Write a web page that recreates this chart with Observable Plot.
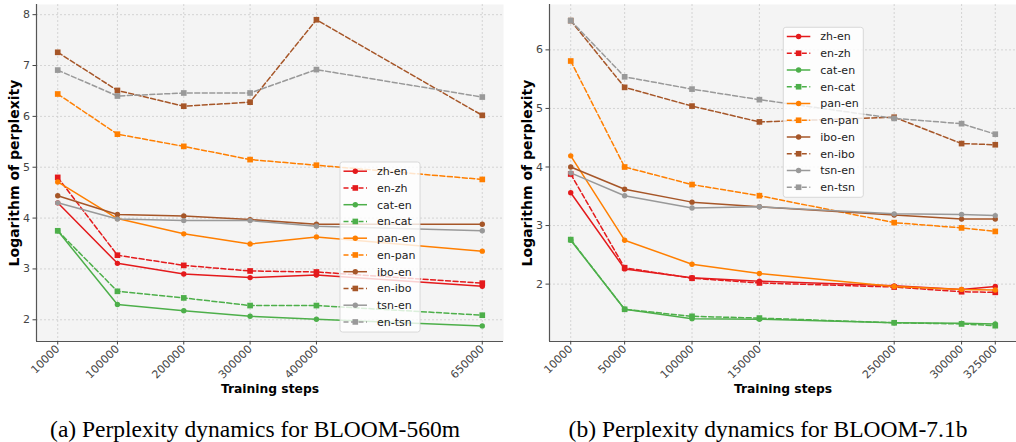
<!DOCTYPE html>
<html><head><meta charset="utf-8">
<script src="https://cdn.jsdelivr.net/npm/d3@7"></script>
<script src="https://cdn.jsdelivr.net/npm/@observablehq/plot@0.6"></script>
<style>
html,body{margin:0;padding:0;background:#fff}
body{width:1016px;height:442px;overflow:hidden;position:relative;font-family:"DejaVu Sans",sans-serif}
.panel{position:absolute;top:0}
.cap{position:absolute;top:416px;width:500px;font-family:"Liberation Serif","Times New Roman",serif;font-size:23.5px;line-height:26px;text-align:center;white-space:nowrap;color:#000}
</style></head><body>
<div id="left" class="panel" style="left:0"></div>
<div id="right" class="panel" style="left:508px"></div>
<div class="cap" style="left:5px">(a) Perplexity dynamics for BLOOM-560m</div>
<div class="cap" style="left:518px">(b) Perplexity dynamics for BLOOM-7.1b</div>
<script>
const series = ["zh-en","en-zh","cat-en","en-cat","pan-en","en-pan","ibo-en","en-ibo","tsn-en","en-tsn"];
const colors = ["#e41a1c","#e41a1c","#4daf4a","#4daf4a","#ff7f00","#ff7f00","#a65628","#a65628","#999999","#999999"];

// BLOOM-560m
const leftSteps = [10000, 100000, 200000, 300000, 400000, 650000];
const leftValues = [
  [4.30, 3.11, 2.90, 2.83, 2.88, 2.66], // zh-en
  [4.80, 3.27, 3.07, 2.96, 2.94, 2.72], // en-zh
  [3.75, 2.30, 2.18, 2.07, 2.01, 1.88], // cat-en
  [3.75, 2.56, 2.43, 2.28, 2.28, 2.09], // en-cat
  [4.71, 3.99, 3.69, 3.49, 3.63, 3.35], // pan-en
  [6.44, 5.65, 5.41, 5.15, 5.04, 4.76], // en-pan
  [4.44, 4.07, 4.04, 3.97, 3.88, 3.88], // ibo-en
  [7.26, 6.51, 6.20, 6.28, 7.90, 6.02], // en-ibo
  [4.30, 3.98, 3.95, 3.95, 3.84, 3.75], // tsn-en
  [6.91, 6.40, 6.46, 6.46, 6.92, 6.38]  // en-tsn
];
const leftYTicks = [2, 3, 4, 5, 6, 7, 8];

// BLOOM-7.1b
const rightSteps = [10000, 50000, 100000, 150000, 250000, 300000, 325000];
const rightValues = [
  [3.56, 2.26, 2.11, 2.05, 1.97, 1.91, 1.96], // zh-en
  [3.88, 2.28, 2.10, 2.02, 1.95, 1.87, 1.86], // en-zh
  [2.75, 1.57, 1.41, 1.40, 1.34, 1.33, 1.32], // cat-en
  [2.76, 1.57, 1.45, 1.42, 1.34, 1.32, 1.29], // en-cat
  [4.19, 2.75, 2.34, 2.18, 1.96, 1.91, 1.90], // pan-en
  [5.81, 4.00, 3.70, 3.51, 3.05, 2.96, 2.90], // en-pan
  [4.00, 3.62, 3.40, 3.32, 3.18, 3.11, 3.11], // ibo-en
  [6.50, 5.36, 5.04, 4.77, 4.85, 4.40, 4.38], // en-ibo
  [3.90, 3.51, 3.30, 3.32, 3.20, 3.19, 3.17], // tsn-en
  [6.50, 5.54, 5.33, 5.15, 4.83, 4.74, 4.56]  // en-tsn
];
const rightYTicks = [2, 3, 4, 5, 6];

const xLabel = "Training steps";
const yLabel = "Logarithm of perplexity";

function drawPanel(el, steps, values, yTicks, opts) {
  const rows = [];
  series.forEach((s, i) => steps.forEach((x, j) => rows.push({series: s, x, y: values[i][j]})));
  const isDashed = s => s.startsWith("en-");
  const marks = [
    Plot.frame({fill: "#f4f4f4", stroke: null}),
    Plot.gridX(steps, {stroke: "#cccccc", strokeOpacity: 1, strokeWidth: 0.8, strokeDasharray: "2,2"}),
    Plot.gridY(yTicks, {stroke: "#cccccc", strokeOpacity: 1, strokeWidth: 0.8, strokeDasharray: "2,2"}),
    Plot.ruleX([opts.xDomain[0]], {stroke: "#555", strokeWidth: 1.2}),
    Plot.ruleY([opts.yDomain[0]], {stroke: "#555", strokeWidth: 1.2}),
    Plot.axisY(yTicks, {tickSize: 3.5, tickPadding: 3, color: "#444", fontSize: 11, label: null, tickFormat: d => String(d)}),
    Plot.axisX(steps, {tickSize: 3.5, tickPadding: 2, tickRotate: -45, color: "#444", fontSize: 11, label: null, tickFormat: d => String(d)}),
    Plot.text([yLabel], {frameAnchor: "left", dx: -22, rotate: -90, textAnchor: "middle", fontSize: 14, fontWeight: "bold", fill: "#000"}),
    Plot.text([xLabel], {frameAnchor: "bottom", dy: 51, textAnchor: "middle", fontSize: 12.3, fontWeight: "bold", fill: "#000"})
  ];
  series.forEach((s, i) => {
    const d = rows.filter(r => r.series === s);
    marks.push(Plot.line(d, {x: "x", y: "y", stroke: colors[i], strokeWidth: 1.5, strokeDasharray: isDashed(s) ? "5,2.5" : null}));
    marks.push(Plot.dot(d, {x: "x", y: "y", fill: colors[i], stroke: "none", symbol: isDashed(s) ? "square" : "circle", r: isDashed(s) ? 3.2 : 2.7}));
  });
  const chart = Plot.plot({
    width: 508, height: 400,
    marginLeft: opts.ml, marginRight: opts.mr, marginTop: 4, marginBottom: 59,
    style: {fontFamily: "DejaVu Sans, sans-serif", fontSize: "11px", background: "transparent", overflow: "visible"},
    x: {type: "linear", domain: opts.xDomain},
    y: {domain: opts.yDomain},
    marks
  });
  // legend
  const svg = d3.select(chart);
  const g = svg.append("g").attr("transform", `translate(${opts.legend[0]},${opts.legend[1]})`);
  g.append("rect").attr("width", 80).attr("height", 170).attr("rx", 2.5)
    .attr("fill", "#fff").attr("fill-opacity", 0.8).attr("stroke", "#d0d0d0").attr("stroke-width", 0.8);
  series.forEach((s, i) => {
    const y = 9.2 + i * 16.75;
    const row = g.append("g").attr("transform", `translate(0,${y})`);
    row.append("line").attr("x1", 3.5).attr("x2", 27).attr("y1", 0).attr("y2", 0)
      .attr("stroke", colors[i]).attr("stroke-width", 1.5)
      .attr("stroke-dasharray", isDashed(s) ? "5,2.5" : null);
    if (isDashed(s)) {
      row.append("rect").attr("x", 15.3 - 2.8).attr("y", -2.8).attr("width", 5.6).attr("height", 5.6).attr("fill", colors[i]);
    } else {
      row.append("circle").attr("cx", 15.3).attr("cy", 0).attr("r", 2.7).attr("fill", colors[i]);
    }
    row.append("text").attr("x", 37).attr("y", 0).attr("dy", "0.35em").attr("text-anchor", "start")
      .attr("font-size", 11).attr("fill", "#222").attr("font-family", "DejaVu Sans, sans-serif").text(s);
  });
  document.getElementById(el).appendChild(chart);
}

drawPanel("left", leftSteps, leftValues, leftYTicks, {
  ml: 36, mr: 5, xDomain: [-22000, 682000], yDomain: [1.573, 8.2], legend: [340, 162]
});
drawPanel("right", rightSteps, rightValues, rightYTicks, {
  ml: 41, mr: 0, xDomain: [-5750, 340750], yDomain: [1.02, 6.775], legend: [275.3, 27.3]
});
</script>
</body></html>
